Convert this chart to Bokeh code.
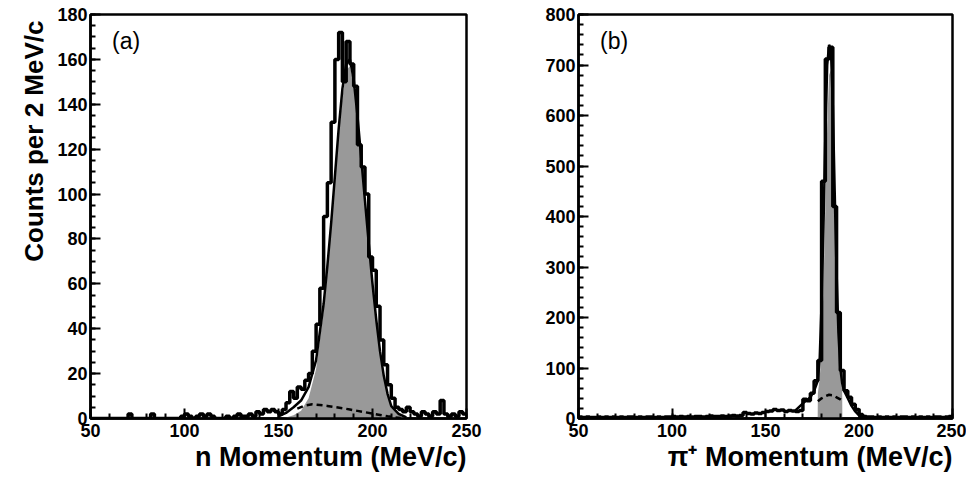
from bokeh.plotting import figure
from bokeh.layouts import row
from bokeh.models import Range1d, Title, Label, SingleIntervalTicker
from bokeh.embed import file_html
from bokeh.resources import INLINE

# ---------------- data ----------------
bin_edges = list(range(50, 252, 2))  # 2 MeV/c bins, 50..250

hist_a = [0, 0, 0, 0, 0, 0, 0, 0, 0, 0,
          2, 0, 0, 0, 0, 0, 2, 0, 0, 0,
          0, 0, 0, 0, 1, 2, 1, 0, 1, 2,
          1, 2, 1, 0, 0, 0, 1, 0, 1, 2,
          1, 1, 2, 1, 3, 2, 4, 3, 4, 3,
          2, 4, 7, 12, 9, 14, 13, 17, 20, 30,
          42, 58, 90, 105, 132, 160, 172, 150, 168, 158,
          148, 122, 112, 100, 72, 66, 50, 35, 24, 15,
          9, 5, 4, 3, 5, 3, 2, 1, 3, 2,
          1, 3, 2, 8, 2, 1, 2, 1, 3, 2]

hist_b = [3, 2, 3, 2, 2, 3, 2, 3, 2, 3,
          2, 3, 2, 3, 3, 2, 3, 2, 3, 3,
          2, 3, 2, 3, 3, 4, 3, 4, 3, 4,
          3, 4, 4, 3, 4, 5, 4, 4, 5, 4,
          5, 6, 5, 6, 12, 10, 9, 11, 10, 12,
          14, 15, 18, 16, 17, 14, 16, 15, 14, 16,
          38, 35, 50, 75, 115, 470, 712, 735, 420, 210,
          95, 55, 42, 28, 18, 8, 4, 3, 3, 2,
          3, 2, 3, 2, 3, 2, 3, 3, 2, 3,
          2, 3, 2, 3, 2, 3, 3, 2, 3, 4]

# fitted signal (grey), total fit (solid) and background (dashed)
sig_a_x = [150, 154, 158, 162, 166, 170, 174, 176, 178, 180, 182, 184, 186, 188,
           190, 192, 194, 196, 198, 200, 202, 204, 206, 208, 210, 214, 218]
sig_a_y = [0, 0.5, 1.5, 3.5, 9, 22, 48, 65, 85, 105, 126, 143, 155, 157,
           149, 133, 114, 95, 77, 59, 43, 29, 18, 10, 5, 1.5, 0]
tot_a_x = [150, 154, 158, 162, 166, 170, 174, 176, 178, 180, 182, 184, 186, 188,
           190, 192, 194, 196, 198, 200, 202, 204, 206, 208, 210, 214, 218]
tot_a_y = [1, 2.5, 5, 8, 14, 26, 51, 68, 87, 108, 129, 147, 158, 160,
           151, 135, 116, 97, 78, 60, 44, 30, 19, 11, 5.5, 2, 0.5]
bg_a_x = [160, 164, 168, 172, 176, 180, 184, 188, 192, 196, 200, 204, 208, 212, 215]
bg_a_y = [4.4, 5.8, 6.3, 6.0, 5.6, 5.1, 4.6, 4.0, 3.4, 2.8, 2.2, 1.6, 1.0, 0.5, 0.2]

sig_b_x = [170, 174, 177.9, 178, 179, 180, 181, 182, 183, 184, 185, 186, 187,
           188, 189, 190, 191, 191.1, 195, 199]
sig_b_y = [1, 1, 1, 50, 80, 140, 260, 420, 580, 680, 690, 600, 450,
           300, 170, 100, 60, 1, 1, 1]
tot_b_x = [166, 170, 174, 176, 178, 179, 180, 181, 182, 183, 184, 185, 186, 187,
           188, 189, 190, 191, 192, 194, 196, 198, 200, 202]
tot_b_y = [16, 30, 42, 55, 75, 120, 230, 380, 560, 700, 740, 730, 620, 450,
           290, 170, 100, 70, 55, 40, 25, 14, 6, 3]
bg_b_x = [178, 180, 182, 184, 186, 188, 190, 191]
bg_b_y = [34, 40, 44, 47, 46, 42, 38, 35]

x_tick_interval = 50
FONT = "Liberation Sans"


def make_panel(hist, sig_x, sig_y, tot_x, tot_y, bg_x, bg_y, ymax, yint, yminor,
               width, border_left, border_right, tag, tag_y, xlabel, ylabel=None):
    p = figure(width=width, height=478, output_backend="svg", toolbar_location=None,
               x_range=Range1d(50, 250), y_range=Range1d(0, ymax),
               min_border_left=border_left, min_border_right=border_right,
               min_border_top=14, min_border_bottom=60, title=None)
    p.background_fill_color = "white"
    p.border_fill_color = "white"
    p.grid.visible = False
    p.outline_line_color = "black"
    p.outline_line_width = 2.5

    p.xaxis.ticker = SingleIntervalTicker(interval=x_tick_interval, num_minor_ticks=5)
    p.yaxis.ticker = SingleIntervalTicker(interval=yint, num_minor_ticks=yminor)
    for ax in (p.xaxis, p.yaxis):
        ax.axis_line_width = 2.5
        ax.major_tick_in = 10
        ax.major_tick_out = 0
        ax.minor_tick_in = 5
        ax.minor_tick_out = 0
        ax.major_tick_line_width = 2
        ax.minor_tick_line_width = 2
        ax.major_label_text_font = FONT
        ax.major_label_text_font_style = "bold"
        ax.major_label_text_font_size = "18px"
        ax.major_label_text_color = "black"
    p.xaxis.major_label_standoff = 5
    p.yaxis.major_label_standoff = 3

    # grey signal
    p.varea(x=sig_x, y1=[0] * len(sig_x), y2=sig_y, fill_color="#999999")
    # histogram
    xs = bin_edges
    ys = hist + [hist[-1]]
    p.step(x=xs, y=ys, mode="after", line_color="black", line_width=3.5)
    # total fit
    p.line(x=tot_x, y=tot_y, line_color="black", line_width=2.5)
    # background
    p.line(x=bg_x, y=bg_y, line_color="black", line_width=2.5, line_dash="6 4")

    p.add_layout(Label(x=61.5, y=tag_y, text=tag, text_font=FONT,
                       text_font_size="23px", text_baseline="top", text_color="black"))

    p.add_layout(Title(text=xlabel, align="right", text_font=FONT,
                       text_font_style="bold", text_font_size="27px",
                       text_color="black", standoff=0, offset=0), "below")
    if ylabel:
        p.add_layout(Title(text=ylabel, align="right", text_font=FONT,
                           text_font_style="bold", text_font_size="26px",
                           text_color="black", standoff=12, offset=6), "left")
    return p


pa = make_panel(hist_a, sig_a_x, sig_a_y, tot_a_x, tot_a_y, bg_a_x, bg_a_y,
                180, 20, 4, 488, 90, 22, "(a)", 174,
                "n Momentum (MeV/c)", "Counts per 2 MeV/c")
pb = make_panel(hist_b, sig_b_x, sig_b_y, tot_b_x, tot_b_y, bg_b_x, bg_b_y,
                800, 100, 5, 478, 90, 14, "(b)", 773,
                "\u03c0\u207a Momentum (MeV/c)")

layout = row(pa, pb)
open("out.html", "w").write(file_html(layout, INLINE))
